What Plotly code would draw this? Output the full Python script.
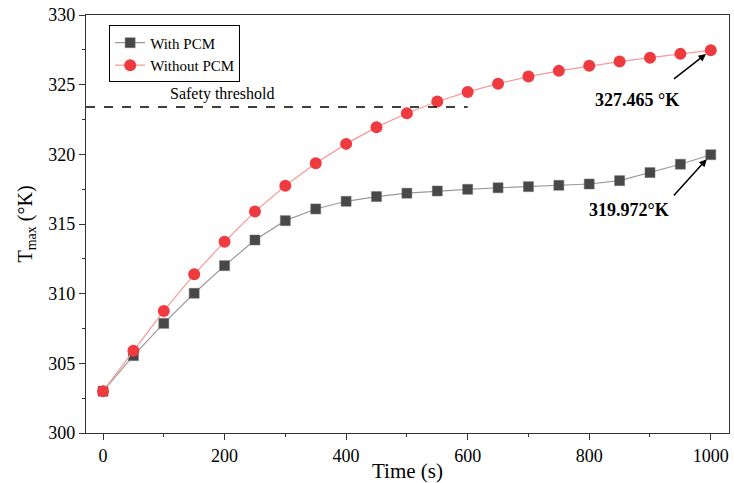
import plotly.graph_objects as go

time_s = [0, 50, 100, 150, 200, 250, 300, 350, 400, 450, 500, 550, 600, 650, 700, 750, 800, 850, 900, 950, 1000]
with_pcm = [303.0, 305.55, 307.87, 310.03, 312.01, 313.85, 315.24, 316.08, 316.63, 316.97, 317.21, 317.37,
            317.49, 317.6, 317.68, 317.78, 317.87, 318.11, 318.69, 319.29, 319.972]
without_pcm = [303.0, 305.9, 308.76, 311.39, 313.73, 315.89, 317.75, 319.36, 320.75, 321.95, 322.95, 323.79,
               324.48, 325.07, 325.58, 325.99, 326.35, 326.66, 326.94, 327.21, 327.465]
threshold_x = [-28, 600]
threshold_y = [323.4, 323.4]

FONT = "Times New Roman, Liberation Serif, serif"

fig = go.Figure()
fig.add_trace(go.Scatter(
    x=time_s, y=with_pcm, mode="lines+markers", name="With PCM",
    line=dict(color="#9a9a9a", width=1.2),
    marker=dict(symbol="square", size=10, color="#484848", line=dict(color="#6a6a6a", width=0.5)),
))
fig.add_trace(go.Scatter(
    x=time_s, y=without_pcm, mode="lines+markers", name="Without PCM",
    line=dict(color="#f59a9a", width=1.2),
    marker=dict(symbol="circle", size=12, color="#ef3b3f", line=dict(width=0)),
))
fig.add_trace(go.Scatter(
    x=threshold_x, y=threshold_y, mode="lines", showlegend=False,
    line=dict(color="black", width=1.5, dash="dash"), hoverinfo="skip",
))

fig.add_annotation(x=196, y=324.3, text="Safety threshold", showarrow=False,
                   font=dict(family=FONT, size=16, color="black"))
fig.add_annotation(x=879, y=323.9, text="<b>327.465 °K</b>", showarrow=False,
                   font=dict(family=FONT, size=18, color="black"))
fig.add_annotation(x=866, y=316.0, text="<b>319.972°K</b>", showarrow=False,
                   font=dict(family=FONT, size=18, color="black"))
fig.add_annotation(x=1000, y=327.465, ax=937, ay=325.33, axref="x", ayref="y", text="",
                   showarrow=True, arrowhead=2, arrowsize=1, arrowwidth=1.5, arrowcolor="black", standoff=6)
fig.add_annotation(x=1000, y=319.972, ax=937, ay=316.93, axref="x", ayref="y", text="",
                   showarrow=True, arrowhead=2, arrowsize=1, arrowwidth=1.5, arrowcolor="black", standoff=6)

fig.update_layout(
    width=734, height=483,
    margin=dict(l=86, r=5, t=15, b=50),
    paper_bgcolor="white", plot_bgcolor="white",
    font=dict(family=FONT, size=18, color="black"),
    showlegend=True,
    legend=dict(x=0.036, y=0.975, xanchor="left", yanchor="top",
                bordercolor="black", borderwidth=1, bgcolor="white",
                font=dict(family=FONT, size=15), tracegroupgap=0,
                itemwidth=30),
)
fig.update_xaxes(
    range=[-28, 1030], tickvals=[0, 200, 400, 600, 800, 1000],
    ticks="outside", ticklen=6, tickwidth=1.2, tickcolor="#333",
    minor=dict(dtick=100, tick0=0, ticks="outside", ticklen=3, tickcolor="#333"),
    showline=True, linecolor="#333", linewidth=1.2, mirror=True,
    showgrid=False, zeroline=False, ticklabeloverflow="allow", automargin=False,
    title=dict(text="Time (s)", font=dict(family=FONT, size=21), standoff=0),
    tickfont=dict(family=FONT, size=18),
)
fig.update_yaxes(
    range=[300, 330], tickvals=[300, 305, 310, 315, 320, 325, 330],
    ticks="outside", ticklen=6, tickwidth=1.2, tickcolor="#333",
    minor=dict(dtick=2.5, tick0=300, ticks="outside", ticklen=3, tickcolor="#333"),
    showline=True, linecolor="#333", linewidth=1.2, mirror=True,
    showgrid=False, zeroline=False, ticklabeloverflow="allow", automargin=False,
    title=dict(text="T<sub>max</sub> (°K)", font=dict(family=FONT, size=20), standoff=10),
    tickfont=dict(family=FONT, size=18),
)

fig.write_html("out.html", config={"displayModeBar": False},
               post_script="document.body.style.margin='0';")
